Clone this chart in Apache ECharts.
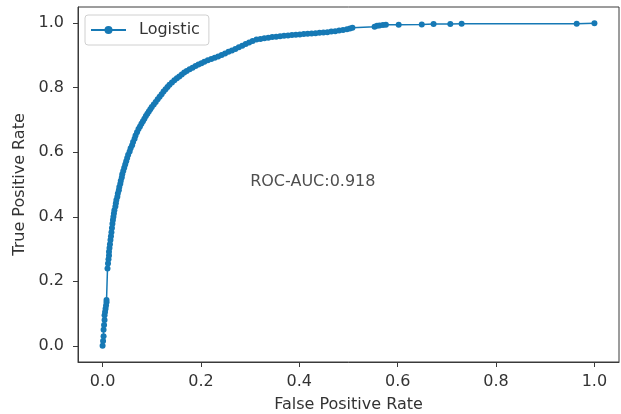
<!DOCTYPE html>
<html>
<head>
<meta charset="utf-8">
<script src="https://cdn.jsdelivr.net/npm/echarts@6/dist/echarts.min.js"></script>
<style>
html,body{margin:0;padding:0;background:#fff;}
#chart{width:621px;height:414px;}
</style>
</head>
<body>
<div id="chart"></div>
<script>
// False positive rate values
const fpr = [0,0.001,0.002,0.002,0.003,0.004,0.004,0.005,0.006,0.007,0.008,0.008,
 0.010,0.011,0.012,0.013,0.013,0.014,0.015,0.016,0.017,0.018,0.019,0.020,0.021,0.022,0.023,0.024,0.026,0.027,0.028,0.030,0.031,0.033,0.034,0.036,0.037,0.039,0.040,0.042,0.044,0.046,0.048,0.050,0.052,0.055,0.057,0.060,0.062,0.065,0.067,0.070,0.073,0.076,0.079,0.082,0.085,0.088,0.091,0.094,0.097,0.100,0.104,0.108,0.112,0.116,0.120,0.124,0.128,0.132,0.136,0.141,0.146,0.151,0.156,0.161,0.166,0.171,0.177,0.183,0.189,0.195,0.201,0.207,0.214,0.221,0.228,0.235,0.242,0.249,0.256,0.263,0.270,0.277,0.284,0.291,0.298,0.305,0.313,0.321,0.329,0.337,0.345,0.353,0.361,0.369,0.377,0.385,0.393,0.401,0.409,0.417,0.425,0.433,0.441,0.449,0.457,0.465,0.473,0.481,0.489,0.497,0.503,0.508,0.553,0.558,0.563,0.570,0.576,0.602,0.649,0.673,0.707,0.730,0.964,1.0];
// True positive rate values
const tpr = [0,0.015,0.03,0.05,0.065,0.08,0.095,0.105,0.115,0.125,0.135,0.142,
 0.240,0.255,0.268,0.280,0.292,0.303,0.315,0.328,0.340,0.352,0.365,0.378,0.390,0.400,0.410,0.420,0.432,0.442,0.452,0.462,0.472,0.482,0.492,0.502,0.512,0.522,0.532,0.542,0.552,0.562,0.572,0.582,0.592,0.602,0.612,0.622,0.632,0.642,0.652,0.662,0.672,0.680,0.688,0.696,0.704,0.712,0.719,0.726,0.733,0.740,0.748,0.756,0.764,0.772,0.780,0.788,0.795,0.802,0.809,0.816,0.823,0.829,0.835,0.841,0.847,0.852,0.857,0.862,0.867,0.872,0.876,0.880,0.885,0.889,0.893,0.897,0.901,0.906,0.911,0.915,0.920,0.925,0.930,0.935,0.940,0.945,0.949,0.951,0.953,0.955,0.957,0.958,0.959,0.961,0.962,0.963,0.964,0.965,0.966,0.967,0.968,0.969,0.970,0.971,0.972,0.974,0.975,0.977,0.979,0.981,0.983,0.986,0.989,0.992,0.993,0.994,0.995,0.995,0.996,0.997,0.997,0.998,0.998,1.0,1.0];
const ticks = [0,0.2,0.4,0.6,0.8,1.0];
const seriesName = 'Logistic';
const aucText = 'ROC-AUC:0.918';
const aucPos = [0.3, 0.5];

const points = fpr.map((x,i)=>[x,tpr[i]]);
const blue = '#1679b5';
const txt = '#333';
const axisCol = '#3a3a3a';
const chart = echarts.init(document.getElementById('chart'));
chart.setOption({
  animation:false,
  textStyle:{fontFamily:'DejaVu Sans'},
  grid:{left:78,right:2,top:7,bottom:52,show:true,borderColor:axisCol,borderWidth:1,
        containLabel:false,outerBoundsMode:'none'},
  legend:{
    left:85,top:15,orient:'vertical',
    padding:[7,9,7,5],
    itemWidth:35,itemHeight:10,itemGap:6,
    borderColor:'#d0d0d0',borderWidth:1,borderRadius:3,
    textStyle:{fontSize:16,color:txt,fontFamily:'DejaVu Sans',padding:[0,0,0,8]},
    data:[seriesName]
  },
  xAxis:{
    type:'value',min:-0.05,max:1.05,
    name:'False Positive Rate',nameLocation:'middle',nameGap:35,
    nameTextStyle:{fontSize:16,color:txt},
    axisLine:{show:true,onZero:false,lineStyle:{color:axisCol}},
    axisTick:{show:true,length:5,customValues:ticks,lineStyle:{color:axisCol}},
    axisLabel:{customValues:ticks,fontSize:16,color:txt,margin:12,formatter:v=>v.toFixed(1)},
    splitLine:{show:false}
  },
  yAxis:{
    type:'value',min:-0.05,max:1.05,
    name:'True Positive Rate',nameLocation:'middle',nameGap:44,
    nameTextStyle:{fontSize:16,color:txt},
    axisLine:{show:true,onZero:false,lineStyle:{color:axisCol}},
    axisTick:{show:true,length:5,customValues:ticks,lineStyle:{color:axisCol}},
    axisLabel:{customValues:ticks,fontSize:16,color:txt,margin:14,formatter:v=>v.toFixed(1)},
    splitLine:{show:false}
  },
  series:[
    {
      name:seriesName,type:'line',data:points,
      symbol:'circle',symbolSize:6,showSymbol:true,
      lineStyle:{color:blue,width:1.5},
      itemStyle:{color:blue,borderWidth:0}
    },
    {
      type:'scatter',data:[aucPos],symbolSize:0,silent:true,
      label:{show:true,formatter:aucText,position:[0,0],offset:[0,-3],align:'left',verticalAlign:'middle',
        fontSize:16,color:'#222',fontFamily:'DejaVu Sans'}
    }
  ]
});
</script>
</body>
</html>
